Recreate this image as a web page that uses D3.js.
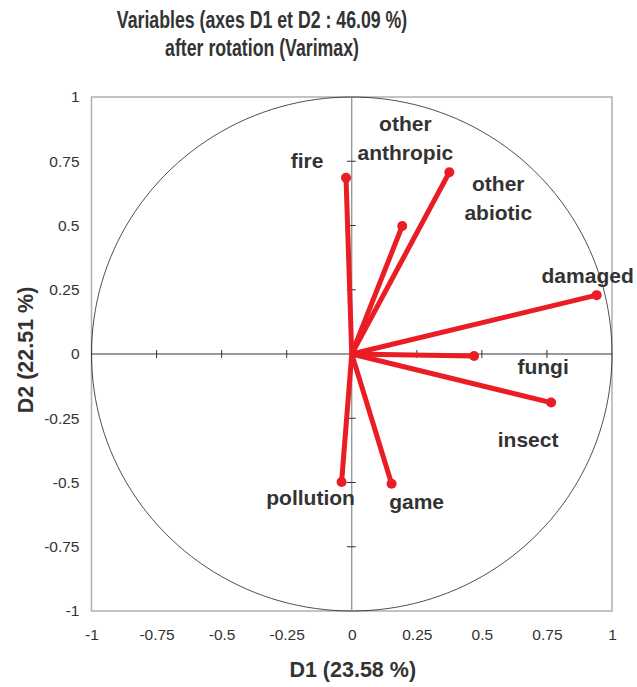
<!DOCTYPE html>
<html>
<head>
<meta charset="utf-8">
<script src="https://cdn.jsdelivr.net/npm/d3@7"></script>
<style>
  body { margin: 0; background: #fff; }
  text { font-family: "Liberation Sans", Arial, sans-serif; fill: #333; }
</style>
</head>
<body>
<div id="chart"></div>
<script>
// variable loadings on D1 / D2 after varimax
const variables = ["fire", "other anthropic", "other abiotic", "damaged", "fungi", "insect", "pollution", "game"];
const d1 = [-0.022, 0.375, 0.194, 0.941, 0.470, 0.766, -0.039, 0.153];
const d2 = [0.686, 0.707, 0.498, 0.229, -0.008, -0.189, -0.498, -0.505];
const tickValues = [-1, -0.75, -0.5, -0.25, 0, 0.25, 0.5, 0.75, 1];

// label placement relative to the point (px), layout only
const labelDx = [-39, -44, 96, -9, 69, -23, -31, 25];
const labelDy = [-10, -41, -35, -12, 18, 44, 23, 25];

const width = 637, height = 687;
const margin = { top: 97, right: 25, bottom: 76, left: 91.5 };

const svg = d3.select("#chart").append("svg")
  .attr("width", width)
  .attr("height", height);

const x = d3.scaleLinear().domain([-1, 1]).range([margin.left, width - margin.right]);
const y = d3.scaleLinear().domain([-1, 1]).range([height - margin.bottom, margin.top]);

// title (condensed bold)
const titleLines = ["Variables (axes D1 et D2 : 46.09 %)", "after rotation (Varimax)"];
titleLines.forEach((t, i) => {
  svg.append("text")
    .attr("transform", `translate(262,${28 + i * 28}) scale(0.77,1)`)
    .attr("text-anchor", "middle")
    .style("font-size", "23px").style("font-weight", "bold")
    .text(t);
});

// frame
svg.append("rect")
  .attr("x", x(-1)).attr("y", y(1))
  .attr("width", x(1) - x(-1)).attr("height", y(-1) - y(1))
  .attr("fill", "none")
  .attr("stroke", "#b5adad")
  .attr("stroke-width", 1.5);

// unit circle
const circ = d3.range(0, 361, 2).map(a => [Math.cos(a * Math.PI / 180), Math.sin(a * Math.PI / 180)]);
svg.append("path")
  .attr("d", d3.line().x(d => x(d[0])).y(d => y(d[1]))(circ))
  .attr("fill", "none")
  .attr("stroke", "#222")
  .attr("stroke-width", 0.8);

// zero axes through the middle with cross ticks
svg.append("line")
  .attr("x1", x(-1)).attr("x2", x(1))
  .attr("y1", y(0)).attr("y2", y(0))
  .attr("stroke", "#333").attr("stroke-width", 1);
svg.append("line")
  .attr("x1", x(0)).attr("x2", x(0))
  .attr("y1", y(-1)).attr("y2", y(1))
  .attr("stroke", "#888").attr("stroke-width", 1.2);

const inner = tickValues.filter(v => v !== 0 && Math.abs(v) !== 1);
svg.append("g").selectAll("line")
  .data(inner).enter().append("line")
  .attr("x1", d => x(d)).attr("x2", d => x(d))
  .attr("y1", y(0) - 4).attr("y2", y(0) + 4)
  .attr("stroke", "#333");
svg.append("g").selectAll("line")
  .data(inner).enter().append("line")
  .attr("y1", d => y(d)).attr("y2", d => y(d))
  .attr("x1", x(0) - 5).attr("x2", x(0) + 4)
  .attr("stroke", "#333");

// tick labels (outside the frame)
const fmt = d => String(d);
const xAxis = svg.append("g")
  .attr("transform", `translate(0,${y(-1)})`)
  .call(d3.axisBottom(x).tickValues(tickValues).tickFormat(fmt).tickSize(0).tickPadding(18));
const yAxis = svg.append("g")
  .attr("transform", `translate(${x(-1)},0)`)
  .call(d3.axisLeft(y).tickValues(tickValues).tickFormat(fmt).tickSize(0).tickPadding(12));
[xAxis, yAxis].forEach(a => {
  a.select(".domain").remove();
  a.selectAll("text").style("font-size", "15.5px").style("font-family", "Liberation Sans, Arial, sans-serif").attr("fill", "#333");
});

// axis titles
svg.append("text")
  .attr("x", x(0) + 1).attr("y", 677)
  .attr("text-anchor", "middle")
  .style("font-size", "21.5px").style("font-weight", "bold")
  .text("D1 (23.58 %)");
svg.append("text")
  .attr("transform", `translate(33,350) rotate(-90)`)
  .attr("text-anchor", "middle")
  .style("font-size", "21.5px").style("font-weight", "bold")
  .text("D2 (22.51 %)");

// vectors
const data = variables.map((name, i) => ({ name, d1: d1[i], d2: d2[i], dx: labelDx[i], dy: labelDy[i] }));
const red = "#ea1c24";

svg.append("g").selectAll("line")
  .data(data).enter().append("line")
  .attr("x1", x(0)).attr("y1", y(0))
  .attr("x2", d => x(d.d1)).attr("y2", d => y(d.d2))
  .attr("stroke", red)
  .attr("stroke-width", 5);

svg.append("g").selectAll("circle")
  .data(data).enter().append("circle")
  .attr("cx", d => x(d.d1)).attr("cy", d => y(d.d2))
  .attr("r", 5)
  .attr("fill", red);

// labels, split "other xxx" over two lines
const labels = svg.append("g").selectAll("text")
  .data(data).enter().append("text")
  .attr("text-anchor", "middle")
  .attr("x", d => x(d.d1) + d.dx)
  .attr("y", d => y(d.d2) + d.dy)
  .style("font-size", "21px").style("font-weight", "bold");
labels.each(function (d) {
  const words = d.name.split(" ");
  const t = d3.select(this);
  words.forEach((w, k) => {
    t.append("tspan")
      .attr("x", x(d.d1) + d.dx)
      .attr("dy", k === 0 ? 0 : 28.5)
      .text(w);
  });
});
</script>
</body>
</html>
